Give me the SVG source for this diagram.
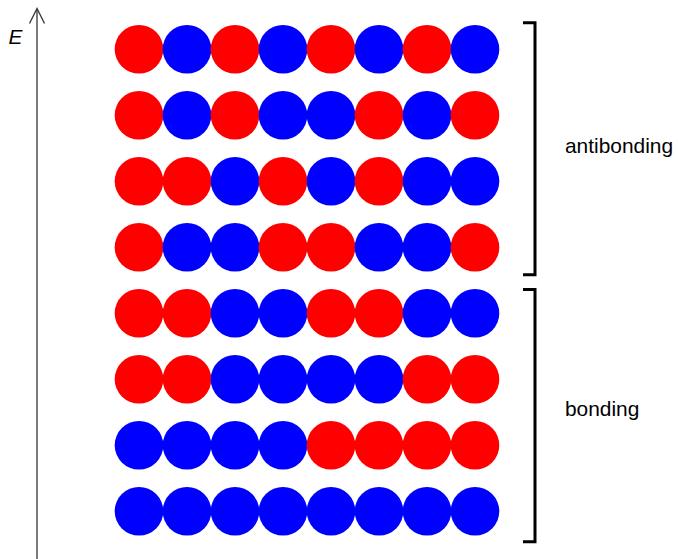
<svg xmlns="http://www.w3.org/2000/svg" width="678" height="559" viewBox="0 0 678 559">
<style>
.r{fill:#ff0000}
.b{fill:#0000ff}
.lbl{font-family:"Liberation Sans",Arial,sans-serif;font-size:20.9px;fill:#000}
.br{fill:none;stroke:#000;stroke-width:3;stroke-linejoin:miter}
.ax{fill:none;stroke:#333;stroke-width:1.3}
</style>
<rect width="678" height="559" fill="#fff"/>
<g id="axis">
<path class="ax" d="M37,9 V559"/>
<path class="ax" d="M29.5,23.5 L37,8.5 L44.5,23.5"/>
<text class="lbl" x="8.5" y="44" font-style="italic" font-size="19.8">E</text>
</g>
<g id="row1" transform="translate(0,49.3)">
<circle class="r" cx="139" cy="0" r="24.3"/><circle class="b" cx="187" cy="0" r="24.3"/><circle class="r" cx="235" cy="0" r="24.3"/><circle class="b" cx="283" cy="0" r="24.3"/><circle class="r" cx="331" cy="0" r="24.3"/><circle class="b" cx="379" cy="0" r="24.3"/><circle class="r" cx="427" cy="0" r="24.3"/><circle class="b" cx="475" cy="0" r="24.3"/>
</g>
<g id="row2" transform="translate(0,115.3)">
<circle class="r" cx="139" cy="0" r="24.3"/><circle class="b" cx="187" cy="0" r="24.3"/><circle class="r" cx="235" cy="0" r="24.3"/><circle class="b" cx="283" cy="0" r="24.3"/><circle class="b" cx="331" cy="0" r="24.3"/><circle class="r" cx="379" cy="0" r="24.3"/><circle class="b" cx="427" cy="0" r="24.3"/><circle class="r" cx="475" cy="0" r="24.3"/>
</g>
<g id="row3" transform="translate(0,181.3)">
<circle class="r" cx="139" cy="0" r="24.3"/><circle class="r" cx="187" cy="0" r="24.3"/><circle class="b" cx="235" cy="0" r="24.3"/><circle class="r" cx="283" cy="0" r="24.3"/><circle class="b" cx="331" cy="0" r="24.3"/><circle class="r" cx="379" cy="0" r="24.3"/><circle class="b" cx="427" cy="0" r="24.3"/><circle class="b" cx="475" cy="0" r="24.3"/>
</g>
<g id="row4" transform="translate(0,247.3)">
<circle class="r" cx="139" cy="0" r="24.3"/><circle class="b" cx="187" cy="0" r="24.3"/><circle class="b" cx="235" cy="0" r="24.3"/><circle class="r" cx="283" cy="0" r="24.3"/><circle class="r" cx="331" cy="0" r="24.3"/><circle class="b" cx="379" cy="0" r="24.3"/><circle class="b" cx="427" cy="0" r="24.3"/><circle class="r" cx="475" cy="0" r="24.3"/>
</g>
<g id="row5" transform="translate(0,313.3)">
<circle class="r" cx="139" cy="0" r="24.3"/><circle class="r" cx="187" cy="0" r="24.3"/><circle class="b" cx="235" cy="0" r="24.3"/><circle class="b" cx="283" cy="0" r="24.3"/><circle class="r" cx="331" cy="0" r="24.3"/><circle class="r" cx="379" cy="0" r="24.3"/><circle class="b" cx="427" cy="0" r="24.3"/><circle class="b" cx="475" cy="0" r="24.3"/>
</g>
<g id="row6" transform="translate(0,379.3)">
<circle class="r" cx="139" cy="0" r="24.3"/><circle class="r" cx="187" cy="0" r="24.3"/><circle class="b" cx="235" cy="0" r="24.3"/><circle class="b" cx="283" cy="0" r="24.3"/><circle class="b" cx="331" cy="0" r="24.3"/><circle class="b" cx="379" cy="0" r="24.3"/><circle class="r" cx="427" cy="0" r="24.3"/><circle class="r" cx="475" cy="0" r="24.3"/>
</g>
<g id="row7" transform="translate(0,445.3)">
<circle class="b" cx="139" cy="0" r="24.3"/><circle class="b" cx="187" cy="0" r="24.3"/><circle class="b" cx="235" cy="0" r="24.3"/><circle class="b" cx="283" cy="0" r="24.3"/><circle class="r" cx="331" cy="0" r="24.3"/><circle class="r" cx="379" cy="0" r="24.3"/><circle class="r" cx="427" cy="0" r="24.3"/><circle class="r" cx="475" cy="0" r="24.3"/>
</g>
<g id="row8" transform="translate(0,511.3)">
<circle class="b" cx="139" cy="0" r="24.3"/><circle class="b" cx="187" cy="0" r="24.3"/><circle class="b" cx="235" cy="0" r="24.3"/><circle class="b" cx="283" cy="0" r="24.3"/><circle class="b" cx="331" cy="0" r="24.3"/><circle class="b" cx="379" cy="0" r="24.3"/><circle class="b" cx="427" cy="0" r="24.3"/><circle class="b" cx="475" cy="0" r="24.3"/>
</g>
<g id="antibonding">
<path class="br" d="M523,22.7 H535 V274.7 H523"/>
<text class="lbl" x="565" y="153">antibonding</text>
</g>
<g id="bonding">
<path class="br" d="M523,289.5 H535 V541.7 H523"/>
<text class="lbl" x="565" y="416">bonding</text>
</g>
</svg>
